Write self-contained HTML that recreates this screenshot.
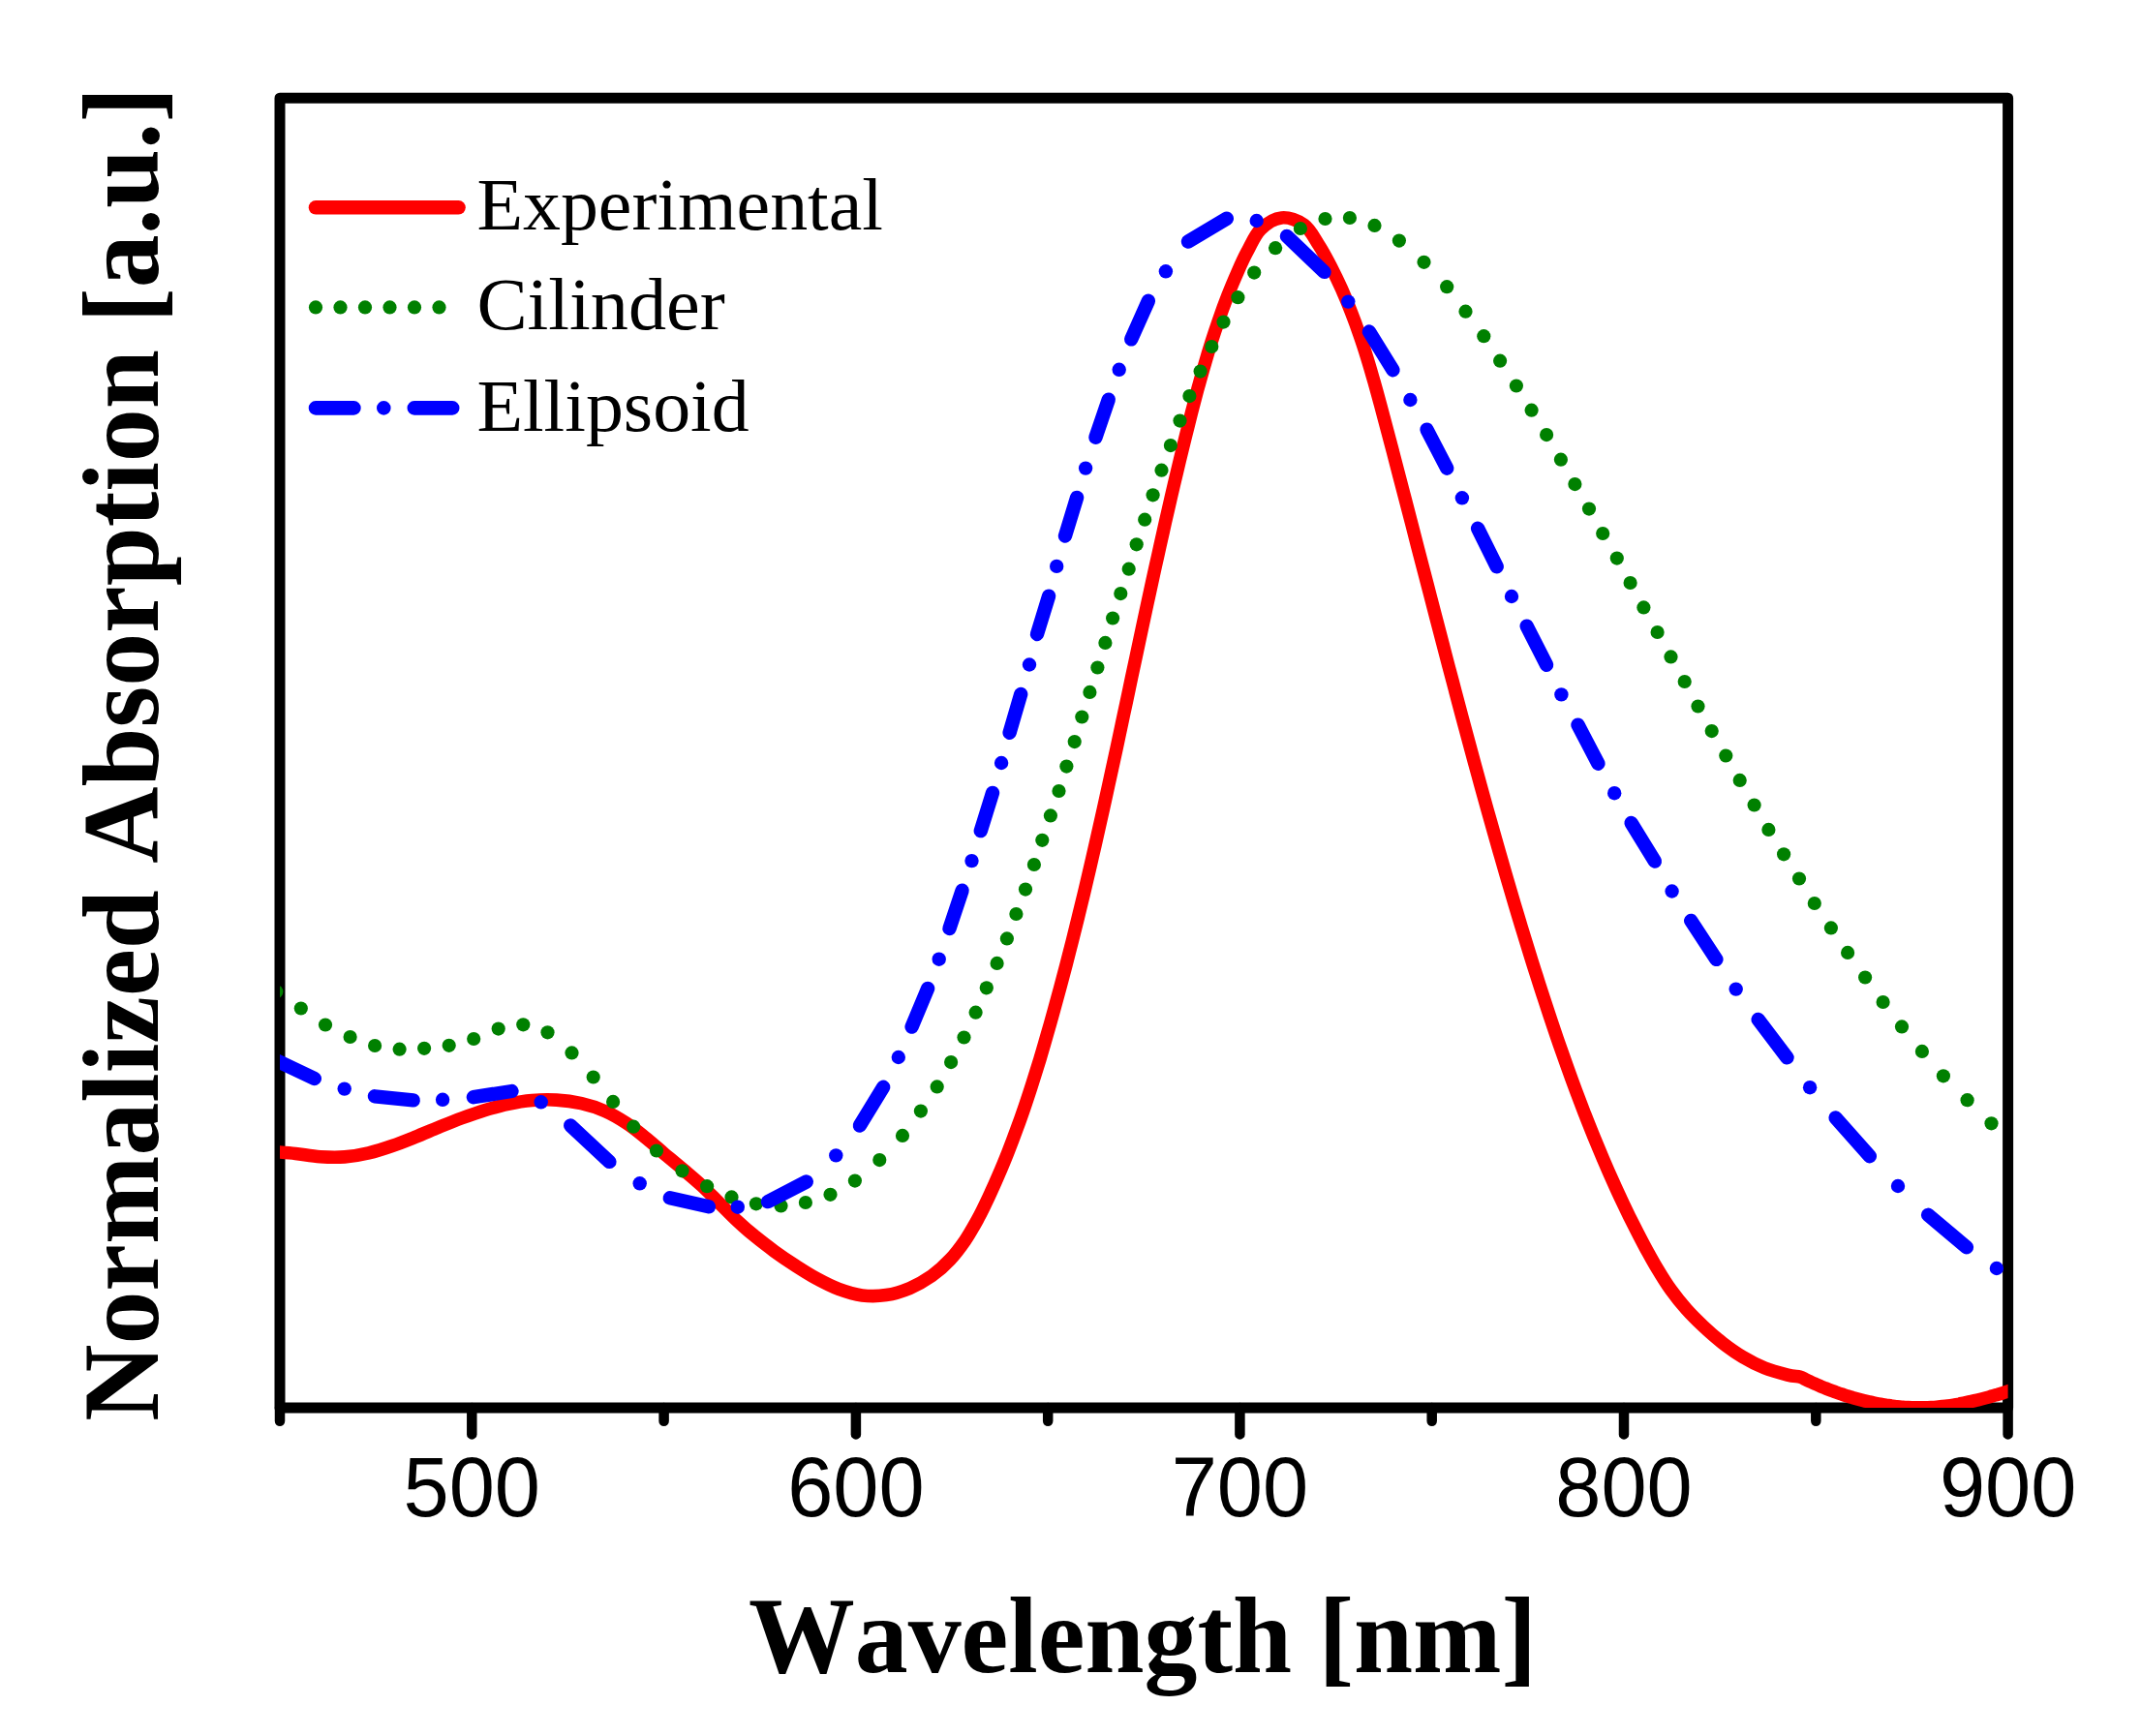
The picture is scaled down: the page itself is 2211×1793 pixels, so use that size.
<!DOCTYPE html>
<html><head><meta charset="utf-8"><title>Normalized Absorption</title>
<style>
html,body{margin:0;padding:0;background:#fff}
body{width:2211px;height:1793px;overflow:hidden}
svg{display:block}
.tk{font-family:"Liberation Sans",sans-serif;font-size:86.6px;text-anchor:middle;fill:#000}
.ax{font-kerning:none;font-family:"Liberation Serif",serif;font-weight:bold;fill:#000}
.lg{font-kerning:none;font-family:"Liberation Serif",serif;font-size:76px;fill:#000}
</style></head><body>
<svg width="2211" height="1793" viewBox="0 0 2211 1793">
<defs><clipPath id="plot"><rect x="289" y="101.2" width="1784.6" height="1352.9"/></clipPath></defs>
<rect width="2211" height="1793" fill="#fff"/>
<g fill="none" stroke="#000" stroke-linecap="round" stroke-width="10.5"><path d="M289 1454.1v13.6"/><path d="M487.3 1454.1v27.3"/><path d="M685.6 1454.1v13.6"/><path d="M883.9 1454.1v27.3"/><path d="M1082.2 1454.1v13.6"/><path d="M1280.4 1454.1v27.3"/><path d="M1478.7 1454.1v13.6"/><path d="M1677 1454.1v27.3"/><path d="M1875.3 1454.1v13.6"/><path d="M2073.6 1454.1v27.3"/></g>
<rect x="289" y="101.2" width="1784.6" height="1352.9" fill="none" stroke="#000" stroke-width="11" stroke-linejoin="round"/>
<g clip-path="url(#plot)">
<path d="M280.5 1189.3 C284.6 1189.7 296.7 1190.6 305.1 1191.5 C313.5 1192.5 322.2 1194.2 330.7 1194.8 C339.2 1195.3 347.7 1195.6 356 1194.9 C364.4 1194.2 372.6 1192.7 380.7 1190.8 C388.9 1188.9 396.9 1186.3 404.9 1183.5 C412.9 1180.8 420.8 1177.6 428.8 1174.4 C436.7 1171.2 444.6 1167.8 452.6 1164.5 C460.5 1161.3 468.4 1158 476.4 1155 C484.4 1152.1 492.4 1149.2 500.4 1146.7 C508.5 1144.3 516.6 1142 524.7 1140.3 C532.9 1138.6 541.2 1137.2 549.5 1136.5 C557.9 1135.8 566.4 1135.6 574.8 1136.1 C583.3 1136.6 592.1 1137.8 600.4 1139.7 C608.7 1141.6 617 1144.2 624.7 1147.6 C632.5 1151 639.7 1155.3 646.7 1159.9 C653.8 1164.5 660.3 1169.9 666.9 1175.2 C673.5 1180.5 679.8 1186.3 686.2 1191.8 C692.7 1197.2 699.2 1202.5 705.6 1208 C712 1213.5 718.5 1218.8 724.7 1224.6 C730.9 1230.3 736.8 1236.6 742.9 1242.6 C748.9 1248.6 754.8 1254.8 761 1260.6 C767.1 1266.3 773.4 1271.8 779.9 1277.1 C786.4 1282.4 793 1287.4 799.8 1292.4 C806.6 1297.3 813.6 1302.1 820.8 1306.8 C828 1311.4 835.4 1316.2 842.9 1320.3 C850.5 1324.4 858.3 1328.5 866.1 1331.4 C874 1334.3 882.1 1336.8 890.3 1337.9 C898.4 1338.9 906.9 1338.8 915.1 1337.6 C923.4 1336.3 931.8 1333.7 939.7 1330.4 C947.5 1327.1 955.2 1322.7 962.2 1317.8 C969.1 1312.9 975.4 1307.1 981.1 1301 C986.8 1295 991.8 1288.2 996.6 1281.3 C1001.3 1274.4 1005.4 1267 1009.5 1259.6 C1013.5 1252.2 1017.2 1244.5 1020.8 1236.8 C1024.4 1229.1 1027.9 1221.4 1031.2 1213.6 C1034.6 1205.9 1037.8 1198 1040.9 1190.2 C1044 1182.3 1047 1174.4 1049.9 1166.4 C1052.9 1158.5 1055.7 1150.5 1058.4 1142.5 C1061.1 1134.5 1063.8 1126.4 1066.3 1118.4 C1068.9 1110.3 1071.4 1102.2 1073.9 1094.1 C1076.3 1086 1078.7 1077.9 1081 1069.7 C1083.4 1061.6 1085.7 1053.4 1087.9 1045.3 C1090.2 1037.1 1092.4 1028.9 1094.6 1020.8 C1096.8 1012.6 1099 1004.4 1101.1 996.2 C1103.2 988 1105.3 979.8 1107.4 971.6 C1109.5 963.4 1111.5 955.2 1113.5 947 C1115.5 938.8 1117.5 930.5 1119.5 922.3 C1121.4 914.1 1123.4 905.8 1125.3 897.6 C1127.2 889.4 1129.1 881.1 1131 872.9 C1132.9 864.6 1134.7 856.3 1136.6 848.1 C1138.4 839.8 1140.3 831.6 1142.1 823.3 C1143.9 815 1145.7 806.8 1147.5 798.5 C1149.3 790.2 1151.1 781.9 1152.9 773.7 C1154.6 765.4 1156.4 757.1 1158.2 748.8 C1159.9 740.5 1161.7 732.3 1163.5 724 C1165.2 715.7 1167 707.4 1168.7 699.1 C1170.5 690.9 1172.3 682.6 1174 674.3 C1175.8 666 1177.5 657.7 1179.3 649.4 C1181.1 641.2 1182.8 632.9 1184.6 624.6 C1186.4 616.3 1188.2 608.1 1190 599.8 C1191.8 591.5 1193.6 583.2 1195.5 575 C1197.3 566.7 1199.1 558.5 1201 550.2 C1202.8 541.9 1204.7 533.7 1206.6 525.4 C1208.5 517.2 1210.4 508.9 1212.3 500.7 C1214.3 492.5 1216.2 484.2 1218.2 476 C1220.2 467.8 1222.2 459.5 1224.2 451.3 C1226.3 443.1 1228.3 434.9 1230.4 426.7 C1232.5 418.5 1234.6 410.3 1236.8 402.1 C1239.1 394 1241.3 385.8 1243.7 377.7 C1246 369.6 1248.4 361.5 1251 353.4 C1253.5 345.4 1256.2 337.4 1259 329.4 C1261.7 321.5 1264.6 313.6 1267.7 305.7 C1270.8 297.9 1274 290.1 1277.4 282.4 C1280.8 274.6 1284.2 266.9 1288.3 259.3 C1292.4 251.7 1296 242.5 1301.8 236.8 C1307.7 231.1 1315.9 225.6 1323.4 224.9 C1330.8 224.1 1340.3 227.6 1346.7 232.3 C1353.1 236.9 1357.2 245.7 1361.8 252.9 C1366.5 260.1 1370.5 267.8 1374.4 275.4 C1378.3 283 1382 290.7 1385.5 298.4 C1388.9 306.1 1392.2 314 1395.2 321.9 C1398.3 329.7 1401.2 337.7 1403.9 345.7 C1406.7 353.6 1409.3 361.7 1411.8 369.8 C1414.3 377.8 1416.6 385.9 1419 394.1 C1421.3 402.2 1423.5 410.4 1425.7 418.5 C1427.9 426.7 1430 434.9 1432.2 443.1 C1434.4 451.3 1436.5 459.4 1438.7 467.6 C1440.8 475.8 1442.9 484 1445.1 492.2 C1447.2 500.4 1449.3 508.6 1451.5 516.8 C1453.6 525 1455.7 533.2 1457.9 541.4 C1460 549.6 1462.1 557.8 1464.2 566 C1466.4 574.2 1468.5 582.4 1470.6 590.5 C1472.7 598.7 1474.9 606.9 1477 615.1 C1479.1 623.3 1481.2 631.5 1483.4 639.7 C1485.5 647.9 1487.7 656.1 1489.8 664.3 C1491.9 672.5 1494.1 680.7 1496.2 688.9 C1498.4 697.1 1500.6 705.2 1502.7 713.4 C1504.9 721.6 1507.1 729.8 1509.2 738 C1511.4 746.2 1513.6 754.3 1515.8 762.5 C1518 770.7 1520.2 778.8 1522.4 787 C1524.7 795.2 1526.9 803.3 1529.1 811.5 C1531.4 819.7 1533.6 827.8 1535.9 836 C1538.2 844.1 1540.5 852.3 1542.8 860.4 C1545.1 868.6 1547.4 876.7 1549.8 884.8 C1552.1 893 1554.4 901.1 1556.8 909.2 C1559.2 917.4 1561.6 925.5 1564 933.6 C1566.4 941.7 1568.9 949.8 1571.3 957.9 C1573.8 966 1576.3 974.1 1578.8 982.2 C1581.3 990.3 1583.8 998.4 1586.4 1006.4 C1589 1014.5 1591.5 1022.6 1594.2 1030.6 C1596.8 1038.7 1599.4 1046.7 1602.1 1054.7 C1604.8 1062.8 1607.5 1070.8 1610.3 1078.8 C1613.1 1086.8 1615.9 1094.8 1618.8 1102.8 C1621.6 1110.7 1624.5 1118.7 1627.5 1126.6 C1630.5 1134.5 1633.5 1142.4 1636.5 1150.3 C1639.6 1158.2 1642.7 1166.1 1645.9 1173.9 C1649.1 1181.7 1652.4 1189.5 1655.7 1197.3 C1659 1205.1 1662.4 1212.9 1665.9 1220.6 C1669.3 1228.3 1672.9 1236 1676.5 1243.6 C1680.1 1251.3 1683.8 1258.9 1687.7 1266.4 C1691.5 1274 1695.4 1281.5 1699.4 1288.9 C1703.5 1296.3 1707.5 1303.8 1711.9 1311 C1716.2 1318.2 1720.7 1325.5 1725.6 1332.3 C1730.5 1339.1 1735.8 1345.7 1741.4 1352 C1747 1358.3 1753.1 1364.3 1759.3 1370.1 C1765.5 1375.9 1771.9 1381.6 1778.6 1386.8 C1785.3 1392 1792.3 1397 1799.5 1401.3 C1806.7 1405.6 1814.2 1409.5 1822 1412.7 C1829.7 1415.8 1840 1418.5 1846.1 1420.1 C1852.3 1421.7 1855.8 1421.4 1858.8 1422.1 C1861.8 1422.9 1862.3 1423.7 1864.1 1424.5 C1865.8 1425.4 1867.6 1426.2 1869.4 1427 C1871.2 1427.9 1872.9 1428.7 1874.7 1429.4 C1876.5 1430.2 1878.3 1431 1880.1 1431.8 C1881.9 1432.5 1883.7 1433.3 1885.6 1434 C1887.4 1434.7 1889.2 1435.4 1891 1436.1 C1892.9 1436.8 1894.7 1437.5 1896.5 1438.1 C1898.4 1438.8 1900.2 1439.4 1902.1 1440 C1904 1440.7 1905.8 1441.3 1907.7 1441.9 C1909.5 1442.4 1911.4 1443 1913.3 1443.6 C1915.2 1444.1 1917.1 1444.6 1918.9 1445.1 C1920.8 1445.6 1922.7 1446.1 1924.6 1446.6 C1926.5 1447.1 1928.4 1447.5 1930.3 1447.9 C1932.2 1448.4 1934.1 1448.8 1936 1449.1 C1938 1449.5 1939.9 1449.9 1941.8 1450.2 C1943.7 1450.6 1945.6 1450.9 1947.5 1451.2 C1949.5 1451.5 1951.4 1451.7 1953.3 1452 C1955.3 1452.2 1957.2 1452.5 1959.1 1452.7 C1961 1452.9 1963 1453 1964.9 1453.2 C1966.9 1453.4 1968.8 1453.5 1970.7 1453.6 C1972.7 1453.7 1974.6 1453.8 1976.6 1453.8 C1978.5 1453.9 1980.4 1453.9 1982.4 1453.9 C1984.3 1453.9 1986.3 1453.9 1988.2 1453.8 C1990.1 1453.8 1992.1 1453.7 1994 1453.6 C1996 1453.5 1997.9 1453.4 1999.9 1453.2 C2001.8 1453 2003.7 1452.8 2005.7 1452.6 C2007.6 1452.4 2009.6 1452.2 2011.5 1451.9 C2013.4 1451.7 2015.4 1451.4 2017.3 1451.1 C2019.2 1450.8 2021.2 1450.4 2023.1 1450.1 C2025 1449.7 2027 1449.4 2028.9 1449 C2030.8 1448.6 2032.7 1448.2 2034.6 1447.7 C2036.6 1447.3 2038.5 1446.9 2040.4 1446.4 C2042.3 1446 2044.2 1445.5 2046.1 1445 C2048 1444.5 2049.9 1444 2051.8 1443.5 C2053.7 1443 2055.6 1442.4 2057.5 1441.9 C2059.4 1441.4 2061.2 1440.8 2063.1 1440.3 C2065 1439.7 2066.9 1439.1 2068.7 1438.6 C2070.6 1438 2072.5 1437.4 2074.3 1436.8 C2076.2 1436.2 2078.9 1435.3 2079.9 1435" fill="none" stroke="#ff0000" stroke-width="13.6" stroke-linejoin="round"/>
<g fill="#008000"><circle cx="285.3" cy="1024.3" r="7.1"/><circle cx="310.8" cy="1041.5" r="7.1"/><circle cx="336" cy="1058.5" r="7.1"/><circle cx="361.6" cy="1071" r="7.1"/><circle cx="387.1" cy="1080" r="7.1"/><circle cx="412.6" cy="1083.7" r="7.1"/><circle cx="438.1" cy="1082.8" r="7.1"/><circle cx="463.7" cy="1079.8" r="7.1"/><circle cx="489.2" cy="1073" r="7.1"/><circle cx="514.7" cy="1062.6" r="7.1"/><circle cx="540.3" cy="1058.3" r="7.1"/><circle cx="565.5" cy="1066.3" r="7.1"/><circle cx="590.5" cy="1087.4" r="7.1"/><circle cx="612.7" cy="1112.5" r="7.1"/><circle cx="633.1" cy="1137.9" r="7.1"/><circle cx="654.2" cy="1163.7" r="7.1"/><circle cx="678" cy="1188.5" r="7.1"/><circle cx="704.5" cy="1209.3" r="7.1"/><circle cx="730.1" cy="1225.2" r="7.1"/><circle cx="755.5" cy="1236.4" r="7.1"/><circle cx="780.9" cy="1243.3" r="7.1"/><circle cx="806.5" cy="1245.4" r="7.1"/><circle cx="831.9" cy="1242" r="7.1"/><circle cx="857.5" cy="1233.8" r="7.1"/><circle cx="882.9" cy="1219.6" r="7.1"/><circle cx="908.3" cy="1198.1" r="7.1"/><circle cx="932" cy="1172.9" r="7.1"/><circle cx="950.9" cy="1147.6" r="7.1"/><circle cx="967.7" cy="1122.4" r="7.1"/><circle cx="982.1" cy="1097.1" r="7.1"/><circle cx="995.5" cy="1071.5" r="7.1"/><circle cx="1007.6" cy="1045.7" r="7.1"/><circle cx="1018.8" cy="1020.3" r="7.1"/><circle cx="1029.6" cy="994.9" r="7.1"/><circle cx="1039.9" cy="969.4" r="7.1"/><circle cx="1049.4" cy="944" r="7.1"/><circle cx="1059" cy="918.6" r="7.1"/><circle cx="1067.9" cy="893" r="7.1"/><circle cx="1076.3" cy="867.8" r="7.1"/><circle cx="1084.9" cy="842.4" r="7.1"/><circle cx="1093.5" cy="817" r="7.1"/><circle cx="1101.4" cy="791.6" r="7.1"/><circle cx="1109.7" cy="766.1" r="7.1"/><circle cx="1117.3" cy="740.5" r="7.1"/><circle cx="1125.4" cy="714.9" r="7.1"/><circle cx="1133.4" cy="689.5" r="7.1"/><circle cx="1141.4" cy="663.9" r="7.1"/><circle cx="1149.1" cy="638.5" r="7.1"/><circle cx="1157.3" cy="613.1" r="7.1"/><circle cx="1165.7" cy="587.7" r="7.1"/><circle cx="1173.7" cy="562.3" r="7.1"/><circle cx="1182.2" cy="536.7" r="7.1"/><circle cx="1190.6" cy="511.3" r="7.1"/><circle cx="1199.5" cy="485.7" r="7.1"/><circle cx="1208.9" cy="460.1" r="7.1"/><circle cx="1218.5" cy="434.6" r="7.1"/><circle cx="1228.4" cy="409.1" r="7.1"/><circle cx="1239.6" cy="383.6" r="7.1"/><circle cx="1251.3" cy="358" r="7.1"/><circle cx="1263.5" cy="332.6" r="7.1"/><circle cx="1278.4" cy="307.2" r="7.1"/><circle cx="1295.2" cy="281.6" r="7.1"/><circle cx="1317.1" cy="256.2" r="7.1"/><circle cx="1342.9" cy="236" r="7.1"/><circle cx="1368.5" cy="226" r="7.1"/><circle cx="1393.9" cy="225" r="7.1"/><circle cx="1419.5" cy="232.9" r="7.1"/><circle cx="1444.9" cy="248.6" r="7.1"/><circle cx="1470.5" cy="270.8" r="7.1"/><circle cx="1494.2" cy="296.2" r="7.1"/><circle cx="1513.5" cy="321.7" r="7.1"/><circle cx="1532.3" cy="347.2" r="7.1"/><circle cx="1549.1" cy="372.7" r="7.1"/><circle cx="1565.9" cy="398.5" r="7.1"/><circle cx="1581.6" cy="423.7" r="7.1"/><circle cx="1597.1" cy="449.1" r="7.1"/><circle cx="1611.9" cy="474.7" r="7.1"/><circle cx="1626.4" cy="500.1" r="7.1"/><circle cx="1641" cy="525.6" r="7.1"/><circle cx="1655.2" cy="551" r="7.1"/><circle cx="1669.8" cy="576.6" r="7.1"/><circle cx="1683.6" cy="602" r="7.1"/><circle cx="1697.4" cy="627.4" r="7.1"/><circle cx="1711.6" cy="653" r="7.1"/><circle cx="1725.5" cy="678.4" r="7.1"/><circle cx="1739.7" cy="704" r="7.1"/><circle cx="1753.5" cy="729.5" r="7.1"/><circle cx="1767.7" cy="755.1" r="7.1"/><circle cx="1782.3" cy="780.5" r="7.1"/><circle cx="1796.7" cy="805.9" r="7.1"/><circle cx="1811.6" cy="831.5" r="7.1"/><circle cx="1826.4" cy="856.9" r="7.1"/><circle cx="1842.1" cy="882.3" r="7.1"/><circle cx="1858" cy="907.5" r="7.1"/><circle cx="1873.8" cy="933" r="7.1"/><circle cx="1890.9" cy="958.4" r="7.1"/><circle cx="1908.1" cy="983.9" r="7.1"/><circle cx="1926.1" cy="1009.5" r="7.1"/><circle cx="1944.6" cy="1035" r="7.1"/><circle cx="1964" cy="1060.4" r="7.1"/><circle cx="1984.9" cy="1085.9" r="7.1"/><circle cx="2006.9" cy="1111.3" r="7.1"/><circle cx="2031.6" cy="1136.2" r="7.1"/><circle cx="2056.5" cy="1160.3" r="7.1"/></g>
<g fill="none" stroke="#0000ff" stroke-width="14.4" stroke-linecap="round" stroke-linejoin="round"><path d="M285.3 1095.3L324.8 1114"/><path d="M355.7 1124.6h0"/><path d="M386.9 1132.3L426.7 1136.4"/><path d="M457.1 1135.8h0"/><path d="M488.9 1133.2L528.5 1127"/><path d="M558.7 1138.3h0"/><path d="M589.2 1162.5L629.4 1199.9"/><path d="M660.7 1222.3h0"/><path d="M691.8 1237.3L731.9 1246.3"/><path d="M761.8 1246.7h0"/><path d="M793 1241.1L832.8 1220.5"/><path d="M863.3 1193.4h0"/><path d="M887.9 1162.6L912.2 1122.8"/><path d="M927.8 1092h0"/><path d="M941.6 1060.6L958.1 1021"/><path d="M969.7 990.7h0"/><path d="M980.5 959L993.6 919.7"/><path d="M1003.5 889.1h0"/><path d="M1012.8 858.1L1025 818.9"/><path d="M1034.1 788h0"/><path d="M1042.6 756.8L1054.2 717"/><path d="M1063 686.5h0"/><path d="M1071 655L1083.1 615.7"/><path d="M1091.2 584.9h0"/><path d="M1100 553.5L1112.1 513.9"/><path d="M1121.1 483.6h0"/><path d="M1131.4 451.8L1144.8 412.6"/><path d="M1155.7 381.8h0"/><path d="M1168.2 350.4L1185.9 310.8"/><path d="M1203.9 280.3h0"/><path d="M1227 249.5L1266.8 225.8"/><path d="M1297.7 228h0"/><path d="M1328.9 243.9L1367.5 280.9"/><path d="M1392.3 311.6h0"/><path d="M1413.9 342.5L1438.5 382.2"/><path d="M1456.4 413h0"/><path d="M1473.5 443.7L1494.3 483.7"/><path d="M1509.9 514.3h0"/><path d="M1526.1 545.7L1545.7 585.3"/><path d="M1561 616h0"/><path d="M1576.6 646.6L1597.1 686.8"/><path d="M1612.4 717.4h0"/><path d="M1629.5 748.6L1650.4 788.7"/><path d="M1667.2 819.2h0"/><path d="M1684.6 850L1708.9 889.6"/><path d="M1726.6 920.5h0"/><path d="M1746.2 950.9L1772.4 990.9"/><path d="M1792.7 1021.6h0"/><path d="M1815.6 1052.9L1845.5 1092.3"/><path d="M1869.1 1123.2h0"/><path d="M1895.6 1154.5L1930.9 1194.2"/><path d="M1960 1225h0"/><path d="M1991.1 1254.8L2030.9 1288.2"/><path d="M2061.9 1310h0"/></g>
</g>
<g id="legend">
<path d="M326 214.3H473.5" fill="none" stroke="#ff0000" stroke-width="14.6" stroke-linecap="round"/>
<g fill="#008000"><circle cx="326" cy="317.4" r="7.1"/><circle cx="351.5" cy="317.4" r="7.1"/><circle cx="377" cy="317.4" r="7.1"/><circle cx="402.5" cy="317.4" r="7.1"/><circle cx="428" cy="317.4" r="7.1"/><circle cx="453.5" cy="317.4" r="7.1"/></g>
<path d="M326 421.4h39.4M396.3 421.4h0M427.8 421.4h39.4" fill="none" stroke="#0000ff" stroke-width="14.6" stroke-linecap="round"/>
<g class="lg"><text transform="translate(492.4 236.7) scale(1.025 1)">Experimental</text><text transform="translate(492.4 339.8) scale(1.03 1)">Cilinder</text><text transform="translate(492.4 444.5) scale(1.025 1)">Ellipsoid</text></g>
</g>
<g class="tk"><text transform="translate(487.3 1565.5) scale(0.979 1)">500</text><text transform="translate(883.9 1565.5) scale(0.979 1)">600</text><text transform="translate(1280.4 1565.5) scale(0.979 1)">700</text><text transform="translate(1677 1565.5) scale(0.979 1)">800</text><text transform="translate(2073.6 1565.5) scale(0.979 1)">900</text></g>
<text class="ax" id="xl" transform="translate(1180 1727) scale(0.98 1)" font-size="112" text-anchor="middle">Wavelength [nm]</text>
<text class="ax" id="yl" transform="translate(163.4 778.9) rotate(-90) scale(0.98 1)" font-size="112" text-anchor="middle">Normalized Absorption [a.u.]</text>
</svg>
</body></html>
